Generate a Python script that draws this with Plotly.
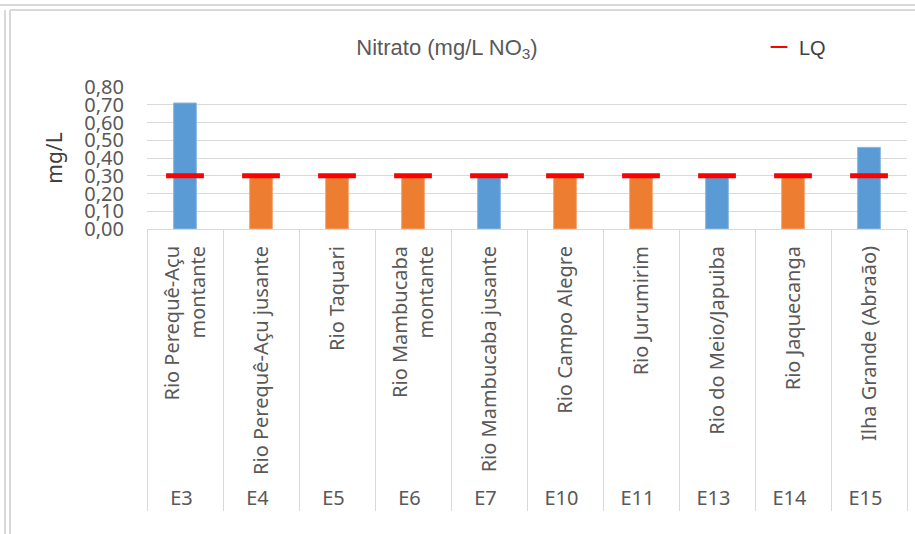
import plotly.graph_objects as go

codes = ["E3", "E4", "E5", "E6", "E7", "E10", "E11", "E13", "E14", "E15"]
names = ["Rio Perequê-Açu<br>montante", "Rio Perequê-Açu jusante", "Rio Taquari",
         "Rio Mambucaba<br>montante", "Rio Mambucaba jusante", "Rio Campo Alegre",
         "Rio Jurumirim", "Rio do Meio/Japuiba", "Rio Jaquecanga", "Ilha Grande (Abraão)"]
nitrato = [0.71, 0.30, 0.30, 0.30, 0.30, 0.30, 0.30, 0.30, 0.30, 0.46]
abaixo_lq = [False, True, True, True, False, True, True, False, True, False]
lq = [0.30] * 10

BLUE = "#5B9BD5"
ORANGE = "#ED7D31"
GRID = "#D9D9D9"
TXT = "#595959"

cols = [ORANGE if b else BLUE for b in abaixo_lq]
edges = ["#F4A878" if b else "#8DB9E2" for b in abaixo_lq]

fig = go.Figure()
fig.add_trace(go.Bar(x=[codes, names], y=nitrato, width=0.3,
                     marker=dict(color=cols, line=dict(width=1, color=edges)),
                     showlegend=False, name="Nitrato"))
fig.add_trace(go.Scatter(x=[codes, names], y=lq, mode="markers", name="LQ",
                         marker=dict(symbol="line-ew", size=27, color="#FF0000",
                                     line=dict(color="#FF0000", width=5))))

# moldura estilo planilha (px -> paper: plot em x 147..907, y 87..229)
def px_x(p):
    return (p - 147) / 760

def px_y(p):
    return (229 - p) / 142

fig.add_shape(type="line", xref="paper", yref="paper", x0=px_x(0), x1=px_x(915),
              y0=px_y(5), y1=px_y(5), line=dict(color=GRID, width=2))
fig.add_shape(type="line", xref="paper", yref="paper", x0=px_x(10), x1=px_x(915),
              y0=px_y(10), y1=px_y(10), line=dict(color=GRID, width=2))
fig.add_shape(type="line", xref="paper", yref="paper", x0=px_x(5), x1=px_x(5),
              y0=px_y(534), y1=px_y(10), line=dict(color=GRID, width=2))
fig.add_shape(type="line", xref="paper", yref="paper", x0=px_x(10), x1=px_x(10),
              y0=px_y(534), y1=px_y(10), line=dict(color=GRID, width=2))

fig.update_layout(
    width=915, height=534,
    margin=dict(l=147, r=8, t=87, b=305, autoexpand=False),
    paper_bgcolor="white", plot_bgcolor="white",
    separators=",.",
    font=dict(family="Noto Sans", color=TXT),
    title=dict(text="Nitrato (mg/L NO<sub>3</sub>)", x=447/915, xanchor="center",
               y=1 - 47/534, yanchor="middle",
               font=dict(family="Liberation Sans", size=22, color=TXT)),
    legend=dict(x=px_x(759), xanchor="left", y=px_y(47), yanchor="middle",
                font=dict(family="Liberation Sans", size=20, color="#404040"),
                itemwidth=30, itemsizing="constant", bgcolor="rgba(0,0,0,0)"),
    bargap=0.7,
)
fig.update_yaxes(range=[0, 0.8], dtick=0.1, tickformat=".2f",
                 gridcolor=GRID, gridwidth=1, zeroline=False,
                 tickfont=dict(size=20, color=TXT), ticklabelstandoff=22,
                 title=dict(text="mg/L", standoff=15,
                            font=dict(size=21, color="#404040")),
                 automargin=False)
fig.update_xaxes(type="multicategory", range=[-0.5, 9.5], tickangle=-90,
                 tickfont=dict(size=20, color=TXT), ticklabelstandoff=8,
                 showline=True, linecolor=GRID, linewidth=1,
                 showdividers=True, dividercolor=GRID, dividerwidth=1,
                 ticks="", automargin=False)

fig.write_html("out.html", config={"displayModeBar": False},
               post_script="document.body.style.margin = '0px';")
